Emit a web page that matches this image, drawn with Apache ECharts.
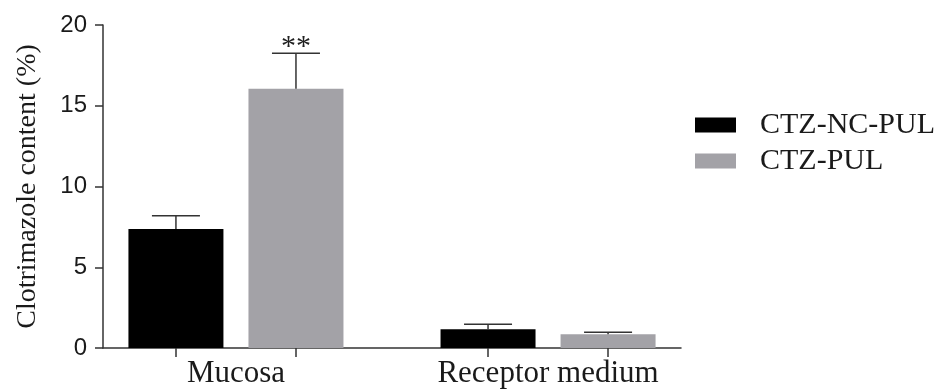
<!DOCTYPE html>
<html>
<head>
<meta charset="utf-8">
<script src="https://cdn.jsdelivr.net/npm/echarts@6/dist/echarts.min.js"></script>
<style>
  html, body { margin: 0; padding: 0; background: #fff; }
  #chart { width: 946px; height: 389px; }
</style>
</head>
<body>
<div id="chart"></div>
<script>
// Groups and series
const categories = ['Mucosa', 'Receptor medium'];
const seriesNames = ['CTZ-NC-PUL', 'CTZ-PUL'];

// Mean clotrimazole content (%) and standard deviation per group
const ctzNcPulMean = [7.37, 1.16];
const ctzNcPulSd = [0.82, 0.31];
const ctzPulMean = [16.06, 0.85];
const ctzPulSd = [2.19, 0.12];

// Significance marks drawn above the CTZ-PUL error bars
const ctzPulSig = ['**', ''];

// Value axis ticks
const yMin = 0;
const yMax = 20;
const yStep = 5;

// Placement of groups along the x axis (group i sits at i + 1),
// with the two bars of a group sitting either side of the centre
const barOffset = 0.1923;
const groupPos = categories.map((_, i) => i + 1);
const barPos = [
  groupPos.map(p => p - barOffset),
  groupPos.map(p => p + barOffset)
];

const means = [ctzNcPulMean, ctzPulMean];
const sds = [ctzNcPulSd, ctzPulSd];
const sigs = [categories.map(() => ''), ctzPulSig];
const colors = ['#000000', '#a3a2a7'];

const axisColor = '#333333';
const serif = '"Liberation Serif", "Times New Roman", serif';
const sans = '"Liberation Sans", Arial, sans-serif';

const barSeries = seriesNames.map((name, s) => ({
  name: name,
  type: 'bar',
  barWidth: 95,
  barGap: '-100%',
  itemStyle: { color: colors[s] },
  data: means[s].map((v, i) => [barPos[s][i], v]),
  z: 2
}));

// Upper error bars (with optional significance marks)
const errorData = [];
seriesNames.forEach((name, s) => {
  means[s].forEach((v, i) => {
    errorData.push([barPos[s][i], v, v + sds[s][i], sigs[s][i]]);
  });
});

const errorSeries = {
  type: 'custom',
  name: 'error',
  data: errorData,
  z: 3,
  silent: true,
  encode: { x: 0, y: [1, 2] },
  renderItem: function (params, api) {
    const x = api.value(0);
    const base = api.coord([x, api.value(1)]);
    const top = api.coord([x, api.value(2)]);
    const half = 24;
    const children = [
      {
        type: 'line',
        shape: { x1: base[0], y1: base[1], x2: top[0], y2: top[1] },
        style: { stroke: axisColor, lineWidth: 1.5 }
      },
      {
        type: 'line',
        shape: { x1: top[0] - half, y1: top[1], x2: top[0] + half, y2: top[1] },
        style: { stroke: axisColor, lineWidth: 1.5 }
      }
    ];
    const sig = api.value(3);
    if (sig) {
      children.push({
        type: 'text',
        x: top[0],
        y: top[1] + 9,
        style: {
          text: sig,
          font: '30px ' + serif,
          fill: '#222222',
          align: 'center',
          verticalAlign: 'bottom'
        }
      });
    }
    return { type: 'group', children: children };
  }
};

const chart = echarts.init(document.getElementById('chart'), null, { renderer: 'canvas' });

chart.setOption({
  animation: false,
  backgroundColor: '#ffffff',
  grid: { left: 103, right: 265, top: 25, bottom: 41, outerBoundsMode: 'none', containLabel: false },
  legend: {
    orient: 'vertical',
    left: 695,
    top: 110,
    padding: 0,
    itemWidth: 41,
    itemHeight: 15,
    itemGap: 6,
    icon: 'rect',
    data: seriesNames,
    textStyle: {
      fontFamily: serif,
      fontSize: 30,
      color: '#1a1a1a',
      lineHeight: 30,
      padding: [0, 0, 0, 19]
    }
  },
  xAxis: {
    type: 'value',
    min: 0.574,
    max: 2.426,
    splitLine: { show: false },
    axisLine: { show: true, lineStyle: { color: axisColor, width: 1.5 } },
    axisTick: {
      show: true,
      length: 9,
      customValues: barPos[0].concat(barPos[1]),
      lineStyle: { color: axisColor, width: 1.5 }
    },
    axisLabel: {
      customValues: groupPos,
      formatter: function (v) {
        const i = groupPos.indexOf(v);
        return i >= 0 ? categories[i] : '';
      },
      margin: 10,
      fontFamily: serif,
      fontSize: 31,
      color: '#1a1a1a'
    }
  },
  yAxis: {
    type: 'value',
    min: yMin,
    max: yMax,
    interval: yStep,
    name: 'Clotrimazole content (%)',
    nameLocation: 'middle',
    nameGap: 61,
    nameTextStyle: { fontFamily: serif, fontSize: 28, color: '#1a1a1a' },
    splitLine: { show: false },
    axisLine: { show: true, lineStyle: { color: axisColor, width: 1.5 } },
    axisTick: { show: true, length: 8, lineStyle: { color: axisColor, width: 1.5 } },
    axisLabel: { margin: 16, fontFamily: sans, fontSize: 24, color: '#1a1a1a' }
  },
  series: barSeries.concat([errorSeries])
});
</script>
</body>
</html>
